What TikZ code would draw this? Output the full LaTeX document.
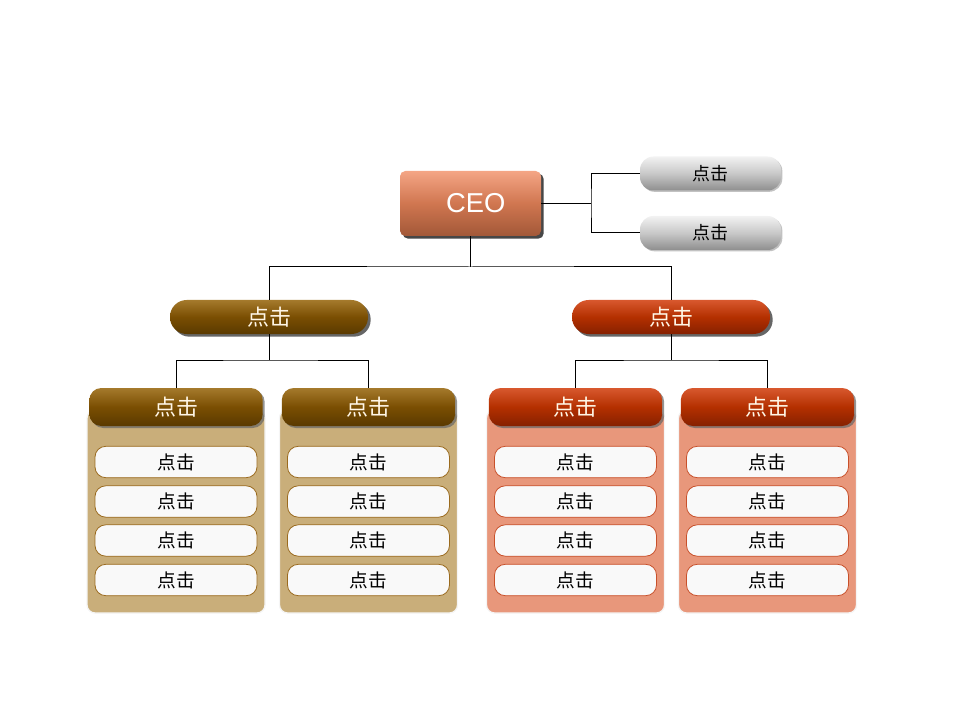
\documentclass[tikz,border=0pt]{standalone}
\usepackage{fontspec}
\setmainfont{Liberation Sans}
\newfontfamily\cjk{Noto Sans CJK SC}
\usetikzlibrary{shadows}

\definecolor{ceotop}{HTML}{F4A585}
\definecolor{ceomid}{HTML}{D07650}
\definecolor{ceobot}{HTML}{A25838}
\definecolor{graytop}{HTML}{F2F2F2}
\definecolor{graymid}{HTML}{C8C8C8}
\definecolor{graybot}{HTML}{8E8E8E}
\definecolor{browntop}{HTML}{A57A2C}
\definecolor{brownmid}{HTML}{7A4E02}
\definecolor{brownbot}{HTML}{5A3A00}
\definecolor{redtop}{HTML}{D8582E}
\definecolor{redmid}{HTML}{B43000}
\definecolor{redbot}{HTML}{862000}
\definecolor{tanfill}{HTML}{C9AE7A}
\definecolor{salmonfill}{HTML}{E8977B}
\definecolor{brownline}{HTML}{9A6A1E}
\definecolor{redline}{HTML}{C8502A}
\definecolor{pilltext}{HTML}{FFF6E6}

\begin{document}
\begin{tikzpicture}[
    x=0.75pt, y=-0.75pt,
    link/.style={draw=black, line width=0.75pt},
    ceobox/.style={rounded corners=4pt, minimum width=105.75pt, minimum height=48.75pt,
      top color=ceotop, bottom color=ceobot, middle color=ceomid, text=white,
      font=\fontsize{20.5pt}{23pt}\selectfont,
      drop shadow={shadow xshift=2pt, shadow yshift=-2pt, fill=black!80, opacity=0.9}},
    graypill/.style={rounded corners=10pt, minimum width=105.75pt, minimum height=25.5pt,
      top color=graytop, bottom color=graybot, middle color=graymid,
      font=\cjk\fontsize{13.5pt}{15pt}\selectfont,
      drop shadow={shadow xshift=1pt, shadow yshift=-1pt, fill=black!40, opacity=0.6}},
    midpill/.style={rounded corners=12.5pt, minimum width=148.5pt, minimum height=25.5pt,
      top color=#1top, bottom color=#1bot, middle color=#1mid, text=pilltext,
      font=\cjk\fontsize{16.5pt}{18pt}\selectfont,
      drop shadow={shadow xshift=2pt, shadow yshift=-2pt, fill=black!75, opacity=0.8}},
    headpill/.style={rounded corners=9pt, minimum width=130pt, minimum height=28.5pt,
      top color=#1top, bottom color=#1bot, middle color=#1mid, text=pilltext,
      font=\cjk\fontsize{16.5pt}{18pt}\selectfont,
      drop shadow={shadow xshift=1.5pt, shadow yshift=-1.5pt, fill=black!60, opacity=0.7}},
    panelbox/.style={rounded corners=6pt, minimum width=133.5pt, minimum height=152.25pt,
      fill=#1, draw=white!92!gray, line width=1pt},
    itembox/.style={rounded corners=8pt, minimum width=121.5pt, minimum height=23.5pt,
      fill=gray!5, draw=#1, line width=0.6pt,
      font=\cjk\fontsize{14pt}{16pt}\selectfont}
    ]
    \useasboundingbox (0,0) rectangle (960,720);

    % top level
    \node[ceobox] (ceo) at (470.5,203.5) {\hspace*{8pt}CEO};
    \node[graypill] (asst1) at (710.5,173.5) {点击};
    \node[graypill] (asst2) at (710.5,233) {点击};

    % second level
    \node[midpill=brown] (left) at (269,317) {点击};
    \node[midpill=red] (right) at (671,317) {点击};

    % columns
    \foreach \name/\cx/\kind/\pcol/\lcol in {la/176/brown/tanfill/brownline,
        lb/368.5/brown/tanfill/brownline, ra/575.5/red/salmonfill/redline,
        rb/767.5/red/salmonfill/redline} {
      \node[panelbox=\pcol] (\name panel) at (\cx,511.5) {};
      \node[headpill=\kind] (\name) at (\cx,407) {点击};
      \foreach \i/\cy in {1/462, 2/501.5, 3/540.5, 4/580}
        \node[itembox=\lcol] (\name\i) at (\cx,\cy) {点击};
    }

    % connectors
    \coordinate (j0) at (591,203.5);
    \coordinate (j1) at (470.5,267);
    \coordinate (j2) at (269,360);
    \coordinate (j3) at (671,360);
    \draw[link] (ceo.east) -- (j0);
    \draw[link] (asst1.west) -| (j0) |- (asst2.west);
    \draw[link] (ceo.south) -- (j1);
    \draw[link] (left.north) |- (j1) -| (right.north);
    \draw[link] (left.south) -- (j2);
    \draw[link] (la.north) |- (j2) -| (lb.north);
    \draw[link] (right.south) -- (j3);
    \draw[link] (ra.north) |- (j3) -| (rb.north);
\end{tikzpicture}
\end{document}
